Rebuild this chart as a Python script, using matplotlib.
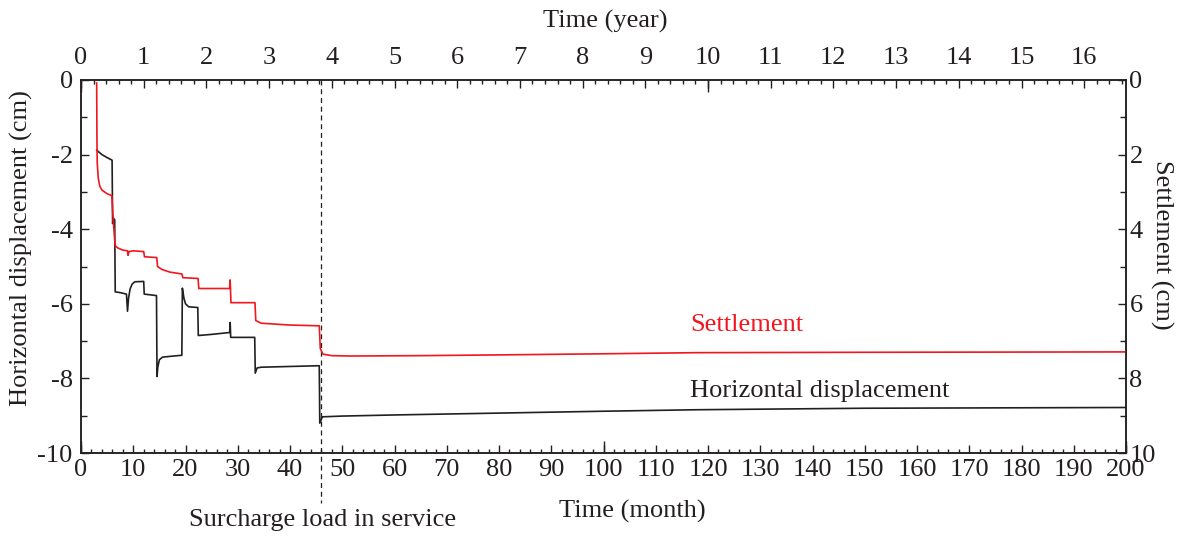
import matplotlib
matplotlib.use("Agg")
import matplotlib.pyplot as plt
from matplotlib.ticker import MultipleLocator, FixedLocator, NullFormatter

plt.rcParams['font.family'] = ['Liberation Serif', 'DejaVu Serif']
plt.rcParams['font.size'] = 19
plt.rcParams['axes.unicode_minus'] = False

INK = '#231f20'
RED = '#f2161e'
FS = 19

# Horizontal displacement (cm) against time (month)
month_hd = [3.0, 4.0, 5.0, 5.95, 6.05, 6.2, 6.45, 6.55, 7.5, 8.7, 8.9, 9.1, 9.4, 9.8, 10.3,
            12.0, 12.1, 14.45, 14.55, 14.7, 15.0, 15.6, 17.0, 19.3, 19.4, 19.7, 20.0, 20.6,
            22.35, 22.45, 25.0, 28.45, 28.55, 28.65, 33.25, 33.35, 33.7, 34.5, 40.0, 45.6,
            45.7, 46.2, 50.0, 60.0, 80.0, 100.0, 118.0, 150.0, 175.0, 200.0]
hd_cm = [-1.88, -2.0, -2.08, -2.15, -3.85, -3.7, -3.75, -5.68, -5.70, -5.74, -6.2, -5.85,
         -5.6, -5.47, -5.41, -5.40, -5.74, -5.78, -7.95, -7.7, -7.5, -7.43, -7.41, -7.38,
         -5.58, -5.85, -6.0, -6.08, -6.1, -6.85, -6.82, -6.77, -6.5, -6.9, -6.9, -7.86,
         -7.72, -7.70, -7.68, -7.66, -9.2, -9.03, -9.01, -8.98, -8.93, -8.88, -8.84, -8.80,
         -8.79, -8.78]

# Settlement (cm) against time (month)
month_st = [3.0, 3.05, 3.1, 3.3, 3.6, 4.0, 5.0, 5.9, 6.1, 6.3, 6.45, 6.6, 7.0, 8.0, 8.9,
            9.0, 9.2, 10.0, 12.0, 12.15, 14.5, 14.65, 15.5, 17.0, 19.3, 19.5, 22.4, 22.55,
            28.45, 28.55, 28.7, 33.3, 33.45, 34.5, 40.0, 45.6, 45.8, 46.3, 48.0, 51.5, 65.0,
            80.0, 100.0, 118.0, 150.0, 200.0]
st_cm = [0.08, 1.5, 2.2, 2.63, 2.85, 2.95, 3.05, 3.1, 3.6, 4.0, 4.3, 4.45, 4.5, 4.56, 4.58,
         4.7, 4.6, 4.58, 4.6, 4.74, 4.76, 5.0, 5.08, 5.15, 5.2, 5.3, 5.32, 5.59, 5.59, 5.36,
         5.97, 5.97, 6.45, 6.52, 6.57, 6.59, 7.2, 7.35, 7.39, 7.40, 7.39, 7.37, 7.34, 7.31,
         7.30, 7.29]

surcharge_month = 46.0
year_labels = list(range(0, 17))

fig = plt.figure(figsize=(11.81, 5.36), dpi=100)
ax = fig.add_axes([81 / 1181, 1 - 453 / 536, 1045 / 1181, 373 / 536])

ax.plot(month_hd, hd_cm, color=INK, lw=1.2)
ax.set_xlim(0, 200)
ax.set_ylim(-10, 0)

# Right axis: settlement, increasing downwards
ax2 = ax.twinx()
ax2.plot(month_st, st_cm, color=RED, lw=1.2)
ax2.set_ylim(10, 0)

for a in (ax, ax2):
    for s in a.spines.values():
        s.set_linewidth(1.1)
        s.set_color(INK)

# Bottom month axis
ax.xaxis.set_major_locator(MultipleLocator(10))
ax.xaxis.set_minor_locator(MultipleLocator(2))
ax.tick_params(axis='x', which='major', direction='in', length=5.5, width=1.0,
               colors=INK, pad=4, top=False, labelsize=FS)
ax.tick_params(axis='x', which='minor', direction='in', length=3.1, width=1.0,
               colors=INK, top=False)
ax.yaxis.set_major_locator(MultipleLocator(2))
ax.yaxis.set_minor_locator(MultipleLocator(1))
ax.tick_params(axis='y', which='major', direction='in', length=5.5, width=1.0,
               colors=INK, pad=6, right=False, labelsize=FS)
ax.tick_params(axis='y', which='minor', direction='in', length=4.0, width=1.0,
               colors=INK, right=False)

ax2.yaxis.set_major_locator(MultipleLocator(2))
ax2.yaxis.set_minor_locator(MultipleLocator(1))
ax2.tick_params(axis='y', which='major', direction='in', length=5.5, width=1.0,
                colors=INK, pad=2.5, labelsize=FS)
ax2.tick_params(axis='y', which='minor', direction='in', length=4.0, width=1.0,
                colors=INK)

# Long bottom ticks every 100 months
sec_b = ax.secondary_xaxis('bottom')
sec_b.xaxis.set_major_locator(FixedLocator([0, 100, 200]))
sec_b.xaxis.set_major_formatter(NullFormatter())
sec_b.tick_params(direction='in', length=8.4, width=1.0, colors=INK)
sec_b.spines['bottom'].set_visible(False)

# Top year axis
to_year = (lambda m: m / 12.0, lambda y: y * 12.0)
sec_t = ax.secondary_xaxis('top', functions=to_year)
sec_t.xaxis.set_major_locator(FixedLocator(year_labels))
sec_t.xaxis.set_minor_locator(MultipleLocator(0.2))
sec_t.tick_params(which='major', direction='in', length=5.5, width=1.0, colors=INK,
                  pad=8, labelsize=FS)
sec_t.tick_params(which='minor', direction='in', length=3.1, width=1.0, colors=INK)
sec_t.spines['top'].set_visible(False)

sec_t2 = ax.secondary_xaxis('top', functions=to_year)
sec_t2.xaxis.set_major_locator(FixedLocator([0, 10]))
sec_t2.xaxis.set_major_formatter(NullFormatter())
sec_t2.tick_params(direction='in', length=8.4, width=1.0, colors=INK)
sec_t2.spines['top'].set_visible(False)

# Surcharge marker line, running below the axis
ax.plot([surcharge_month, surcharge_month], [0, -11.34], color=INK, lw=0.9,
        dashes=(4, 3), clip_on=False)

W, H = 1181, 536


def ftext(x, y, s, **kw):
    fig.text(x / W, 1 - y / H, s, color=kw.pop('color', INK), **kw)


ftext(323, 520, 'Surcharge load in service', ha='center', va='center', fontsize=FS)
ftext(605, 21, 'Time (year)', ha='center', va='center', fontsize=FS)
ftext(632, 511, 'Time (month)', ha='center', va='center', fontsize=FS)
ftext(21.5, 248, 'Horizontal displacement (cm)', ha='center', va='center',
      rotation=90, fontsize=FS)
ftext(1162, 245, 'Settlement (cm)', ha='center', va='center', rotation=270,
      fontsize=FS)
ftext(690, 331, 'Settlement', ha='left', va='baseline', fontsize=FS, color=RED)
ftext(690, 397, 'Horizontal displacement', ha='left', va='baseline', fontsize=FS)

fig.savefig('out.png', dpi=100)
